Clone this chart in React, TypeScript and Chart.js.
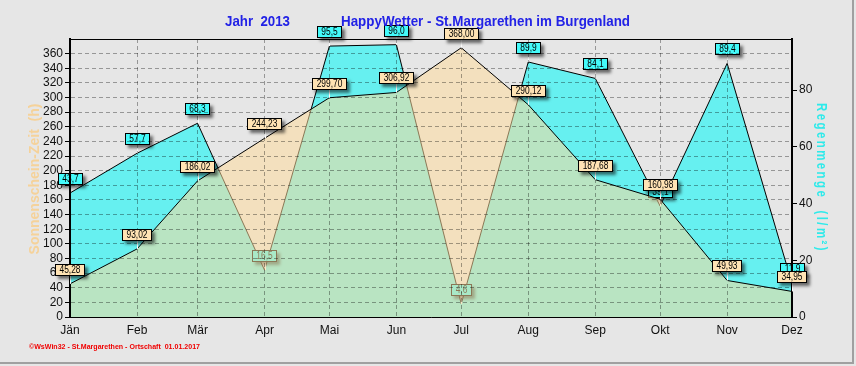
import React, { useEffect, useRef } from 'react';
import { Chart, registerables } from 'chart.js';

Chart.register(...registerables);

// ---- data ----
const months = ['Jän', 'Feb', 'Mär', 'Apr', 'Mai', 'Jun', 'Jul', 'Aug', 'Sep', 'Okt', 'Nov', 'Dez'];
// day of year (0-based) of the first day of each month in 2013
const monthStartDays = [0, 31, 59, 90, 120, 151, 181, 212, 243, 273, 304, 334];
const sunshineHours = [45.28, 93.02, 186.02, 244.23, 299.7, 306.92, 368.0, 290.12, 187.68, 160.98, 49.93, 34.95];
const rainAmounts = [43.7, 57.7, 68.3, 16.5, 95.5, 96.0, 4.6, 89.9, 84.1, 39.1, 89.4, 11.9];
const sunMax = 380;
const sunLabelMax = 360;
const rainMax = 98;
const rainLabelMax = 80;

const titleYear = 'Jahr  2013';
const titleMain = 'HappyWetter - St.Margarethen im Burgenland';
const leftTitle = 'Sonnenschein-Zeit  (h)';
const rightTitle = 'Regenmenge  (l/m²)';
const footer = '©WsWin32 - St.Margarethen - Ortschaft  01.01.2017';

const BG = '#E6E6E6';
const SUN_FILL = 'rgba(254,219,157,0.55)';
const SUN_LABEL = '#FFE3B4';
const RAIN_FILL = '#66F0F0';
const RAIN_LABEL = '#44FAFA';
const FONT = '"Liberation Sans", Arial, sans-serif';

const fmt = (v: number, d: number) => v.toFixed(d).replace('.', ',');

function drawLabel(ctx: CanvasRenderingContext2D, x: number, y: number, text: string, bg: string) {
  ctx.save();
  ctx.font = `10px ${FONT}`;
  const tw = ctx.measureText(text).width * 0.84;
  const w = Math.round(tw + 9);
  const h = 12;
  const bx = Math.round(x - w / 2);
  const by = Math.round(y - 8 - h);
  // leader
  ctx.strokeStyle = '#FFFFFF';
  ctx.lineWidth = 1;
  ctx.beginPath();
  ctx.moveTo(Math.round(x) + 0.5, by + h);
  ctx.lineTo(Math.round(x) + 0.5, y);
  ctx.stroke();
  // box with shadow
  ctx.save();
  ctx.shadowColor = 'rgba(0,0,0,0.55)';
  ctx.shadowOffsetX = 3;
  ctx.shadowOffsetY = 3;
  ctx.shadowBlur = 3;
  ctx.fillStyle = bg;
  ctx.fillRect(bx, by, w, h);
  ctx.restore();
  ctx.strokeStyle = '#000';
  ctx.strokeRect(bx + 0.5, by + 0.5, w - 1, h - 1);
  ctx.fillStyle = '#000';
  ctx.textAlign = 'center';
  ctx.textBaseline = 'middle';
  ctx.fillText(text, bx + w / 2, by + h / 2 + 0.5, tw);
  ctx.restore();
}

function drawSeriesLabels(chart: any, index: number, decimals: number, bg: string) {
  const meta = chart.getDatasetMeta(index);
  const values = chart.data.datasets[index].data as { x: number; y: number }[];
  meta.data.forEach((pt: any, i: number) => {
    drawLabel(chart.ctx, pt.x, pt.y, fmt(values[i].y, decimals), bg);
  });
}

const decorPlugin = {
  id: 'decor',
  beforeDraw(chart: any) {
    const { ctx, width, height } = chart;
    ctx.save();
    ctx.fillStyle = BG;
    ctx.fillRect(0, 0, width, height);
    ctx.fillStyle = '#A0A0A0';
    ctx.fillRect(width - 4, 0, 2, height - 2);
    ctx.fillRect(0, height - 4, width - 2, 2);
    ctx.restore();
  },
  afterDatasetDraw(chart: any, args: any) {
    if (args.index === 1) drawSeriesLabels(chart, 1, 1, RAIN_LABEL);
  },
  afterDraw(chart: any) {
    const { ctx, chartArea } = chart;
    ctx.save();
    // top frame
    ctx.strokeStyle = '#000';
    ctx.lineWidth = 1;
    ctx.beginPath();
    ctx.moveTo(chartArea.left, chartArea.top + 0.5);
    ctx.lineTo(chartArea.right, chartArea.top + 0.5);
    ctx.stroke();

    drawSeriesLabels(chart, 0, 2, SUN_LABEL);

    // title
    ctx.fillStyle = '#2222E6';
    ctx.font = `bold 15px ${FONT}`;
    ctx.textAlign = 'left';
    ctx.textBaseline = 'middle';
    ctx.fillText(titleYear, 225, 22, 65);
    ctx.fillText(titleMain, 341, 22, 289);

    // left axis title
    ctx.save();
    ctx.translate(35, 179);
    ctx.rotate(-Math.PI / 2);
    ctx.fillStyle = '#F5D29A';
    ctx.font = `bold 14px ${FONT}`;
    ctx.textAlign = 'center';
    ctx.fillText(leftTitle, 0, 0, 152);
    ctx.restore();

    // right axis title
    ctx.save();
    ctx.translate(821, 178);
    ctx.rotate(Math.PI / 2);
    ctx.fillStyle = '#2EEAEA';
    ctx.font = `bold 14px ${FONT}`;
    (ctx as any).letterSpacing = '3px';
    ctx.textAlign = 'center';
    ctx.fillText(rightTitle, 0, 0, 150);
    ctx.restore();

    // footer
    ctx.fillStyle = '#F00000';
    ctx.font = `bold 8px ${FONT}`;
    ctx.textAlign = 'left';
    ctx.fillText(footer, 29, 347, 171);
    ctx.restore();
  },
};

export default function App() {
  const ref = useRef<HTMLCanvasElement | null>(null);

  useEffect(() => {
    document.body.style.margin = '0';
    const canvas = ref.current;
    if (!canvas) return;
    const tickFont = { family: FONT, size: 12 };
    const chart = new Chart(canvas, {
      type: 'line',
      data: {
        datasets: [
          {
            label: 'Sonnenschein-Zeit (h)',
            data: sunshineHours.map((v, i) => ({ x: monthStartDays[i], y: v })),
            yAxisID: 'y',
            borderColor: '#000',
            borderWidth: 1,
            backgroundColor: SUN_FILL,
            fill: 'origin',
            pointRadius: 0,
            tension: 0,
            order: 1,
          },
          {
            label: 'Regenmenge (l/m²)',
            data: rainAmounts.map((v, i) => ({ x: monthStartDays[i], y: v })),
            yAxisID: 'y2',
            borderColor: '#000',
            borderWidth: 1,
            backgroundColor: RAIN_FILL,
            fill: 'origin',
            pointRadius: 0,
            tension: 0,
            order: 2,
          },
        ],
      },
      options: {
        responsive: false,
        animation: false,
        devicePixelRatio: 1,
        layout: { padding: { top: 39, left: 0, right: 0, bottom: 0 } },
        plugins: {
          legend: { display: false },
          tooltip: { enabled: false },
          title: { display: false },
        },
        scales: {
          x: {
            type: 'linear',
            min: monthStartDays[0],
            max: monthStartDays[monthStartDays.length - 1],
            afterBuildTicks: (scale: any) => {
              scale.ticks = monthStartDays.map((v) => ({ value: v }));
            },
            afterFit: (scale: any) => {
              scale.height = 49;
            },
            ticks: {
              autoSkip: false,
              maxRotation: 0,
              padding: 6,
              color: '#111',
              font: tickFont,
              callback: (_v: any, i: number) => months[i],
            },
            grid: { color: 'rgba(0,0,0,0.35)', drawTicks: false, z: 1 },
            border: { display: true, color: '#000', width: 1, dash: [4, 3], z: 1 },
          },
          y: {
            type: 'linear',
            position: 'left',
            min: 0,
            max: sunMax,
            afterBuildTicks: (scale: any) => {
              const t = [];
              for (let v = 0; v <= sunLabelMax; v += 20) t.push({ value: v });
              scale.ticks = t;
            },
            afterFit: (scale: any) => {
              scale.width = 70;
            },
            ticks: { autoSkip: false, padding: 2, color: '#111', font: tickFont },
            grid: {
              color: 'rgba(0,0,0,0.35)',
              tickLength: 5,
              tickColor: '#000',
              tickBorderDash: [],
              z: 1,
            },
            border: { display: true, color: '#000', width: 2, dash: [4, 3], z: 1 },
          },
          y2: {
            type: 'linear',
            position: 'right',
            min: 0,
            max: rainMax,
            afterBuildTicks: (scale: any) => {
              const t = [];
              for (let v = 0; v <= rainLabelMax; v += 20) t.push({ value: v });
              scale.ticks = t;
            },
            afterFit: (scale: any) => {
              scale.width = 64;
            },
            ticks: { autoSkip: false, padding: 2, color: '#111', font: tickFont },
            grid: {
              drawOnChartArea: false,
              tickLength: 5,
              tickColor: '#000',
              tickBorderDash: [],
              z: 1,
            },
            border: { display: true, color: '#000', width: 2, z: 1 },
          },
        },
      },
      plugins: [decorPlugin],
    } as any);
    return () => chart.destroy();
  }, []);

  return (
    <div style={{ width: 856, height: 366 }}>
      <canvas ref={ref} width={856} height={366} style={{ display: 'block' }} />
    </div>
  );
}
